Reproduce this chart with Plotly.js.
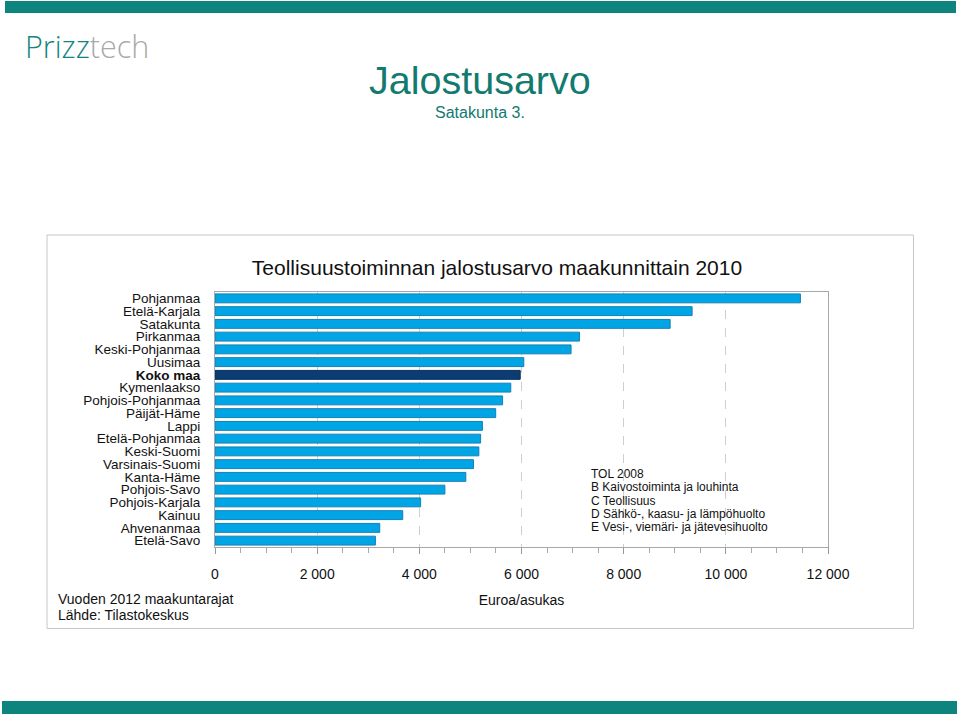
<!DOCTYPE html>
<html>
<head>
<meta charset="utf-8">
<script src="https://cdn.plot.ly/plotly-3.0.1.min.js"></script>
<style>html,body{margin:0;padding:0;background:#fff;}#chart{width:960px;height:716px;}</style>
</head>
<body>
<div id="chart"></div>
<script>
const regions = ["Pohjanmaa","Etelä-Karjala","Satakunta","Pirkanmaa","Keski-Pohjanmaa","Uusimaa","Koko maa","Kymenlaakso","Pohjois-Pohjanmaa","Päijät-Häme","Lappi","Etelä-Pohjanmaa","Keski-Suomi","Varsinais-Suomi","Kanta-Häme","Pohjois-Savo","Pohjois-Karjala","Kainuu","Ahvenanmaa","Etelä-Savo"];
const values = [11460,9340,8910,7135,6970,6045,5975,5790,5630,5495,5235,5200,5165,5060,4910,4500,4025,3675,3225,3140];
const xTicks = [0,2000,4000,6000,8000,10000,12000];
const xTickLabels = ["0","2 000","4 000","6 000","8 000","10 000","12 000"];
const highlight = "Koko maa";
const notes = ["TOL 2008","B Kaivostoiminta ja louhinta","C Teollisuus","D Sähkö-, kaasu- ja lämpöhuolto","E Vesi-, viemäri- ja jätevesihuolto"];
const sources = ["Vuoden 2012 maakuntarajat","Lähde: Tilastokeskus"];

const W = 960, H = 716;
const px = x => x / W;
const py = y => 1 - y / H;
const teal = "#0e847e";
const font = "Liberation Sans, Arial, sans-serif";

const colors = regions.map(r => r === highlight ? "#0b3d73" : "#00a5e6");
const lineColors = regions.map(r => r === highlight ? "#08305c" : "#1380b5");
const labels = regions.map(r => r === highlight ? "<b>" + r + "</b>" : r);

const trace = {
  type: "bar", orientation: "h",
  x: values, y: labels,
  marker: {color: colors, line: {color: lineColors, width: 1}},
  hoverinfo: "x+y"
};

const annotations = [];
function txt(t, x, y, size, opts) {
  annotations.push(Object.assign({
    text: t, xref: "paper", yref: "paper", x: px(x), y: py(y),
    xanchor: "left", yanchor: "middle", showarrow: false,
    font: {family: font, size: size, color: "#111"}
  }, opts || {}));
}
txt('<span style="color:#13857f">Prizz</span><span style="color:#a9a9a9">tech</span>', 23, 46, 30.5, {font: {family: "Open Sans, sans-serif", size: 30.5, weight: 300}});
txt("Jalostusarvo", 480, 80, 39.5, {xanchor: "center", font: {family: font, size: 39.5, color: "#127a6f"}});
txt("Satakunta 3.", 480, 113, 16, {xanchor: "center", font: {family: font, size: 16, color: "#127a6f"}});
notes.forEach((n, i) => txt(n, 589, 474 + i * 13.3, 12));
sources.forEach((s, i) => txt(s, 56, 599 + i * 16, 14));

const shapes = [
  {type: "rect", xref: "paper", yref: "paper", x0: px(5), x1: px(956), y0: py(1), y1: py(13), fillcolor: teal, line: {width: 0}, layer: "below"},
  {type: "rect", xref: "paper", yref: "paper", x0: px(2), x1: px(957), y0: py(701), y1: py(714), fillcolor: teal, line: {width: 0}, layer: "below"},
  {type: "rect", xref: "paper", yref: "paper", x0: px(47), x1: px(913.5), y0: py(235), y1: py(628.5), fillcolor: "rgba(0,0,0,0)", line: {width: 1, color: "#c6c6c6"}, layer: "below"}
];

const layout = {
  width: W, height: H,
  margin: {l: 0, r: 0, t: 0, b: 0},
  paper_bgcolor: "#fff", plot_bgcolor: "#fff",
  separators: ", ",
  showlegend: false,
  bargap: 0.3,
  font: {family: font, color: "#111"},
  title: {text: "Teollisuustoiminnan jalostusarvo maakunnittain 2010", x: px(497), y: py(268), xanchor: "center", yanchor: "middle", font: {family: font, size: 21, color: "#111"}},
  xaxis: {
    domain: [px(215), px(828)], range: [0, 12000],
    tickvals: xTicks, ticktext: xTickLabels,
    ticks: "outside", ticklen: 6, tickcolor: "#999",
    minor: {dtick: 500, ticks: "outside", ticklen: 5, tickcolor: "#aaa", showgrid: false},
    showgrid: true, gridcolor: "#cfcfcf", griddash: "dash", gridwidth: 1,
    showline: true, linecolor: "#a8a8a8", mirror: true, zeroline: false,
    tickfont: {family: font, size: 14, color: "#111"},
    ticklabelstandoff: 8,
    title: {text: "Euroa/asukas", standoff: 14, font: {family: font, size: 14, color: "#111"}},
    fixedrange: true
  },
  yaxis: {
    domain: [py(547), py(292)],
    autorange: "reversed", type: "category",
    tickmode: "array", tickvals: labels, ticktext: labels,
    showline: true, linecolor: "#a8a8a8", mirror: true,
    ticks: "", showgrid: false,
    tickfont: {family: font, size: 13.5, color: "#111"},
    ticklabelstandoff: 11,
    fixedrange: true
  },
  shapes: shapes,
  annotations: annotations
};

Plotly.newPlot("chart", [trace], layout, {displayModeBar: false, staticPlot: true});
</script>
</body>
</html>
